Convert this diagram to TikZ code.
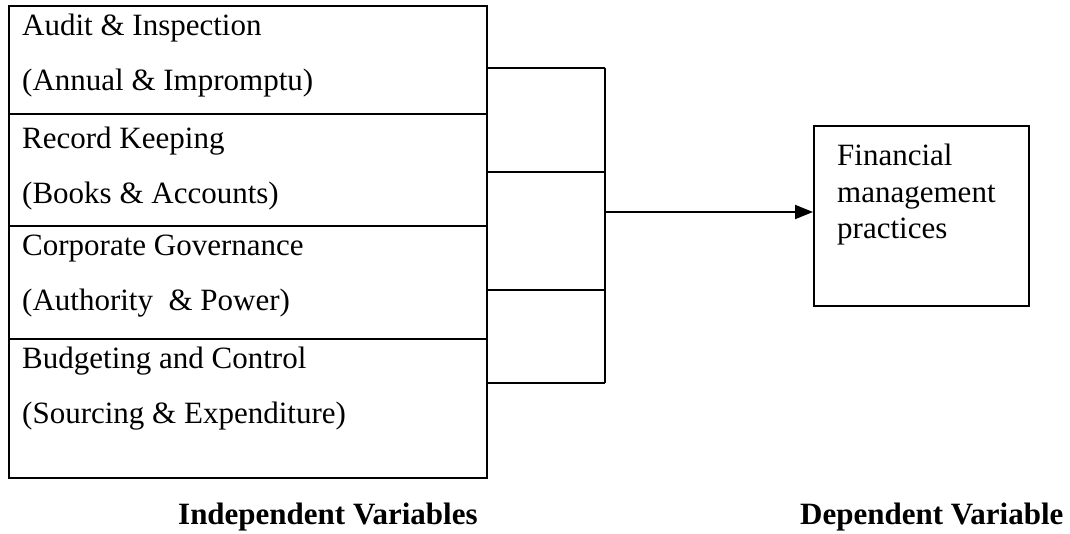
\documentclass[tikz,border=0pt]{standalone}
\usepackage{fontspec}
\setmainfont{Liberation Serif}
\usetikzlibrary{arrows.meta}
\begin{document}
\begin{tikzpicture}[x=1pt,y=-1pt,
  every node/.style={font=\fontsize{31}{36}\selectfont, inner sep=0pt},
  cell/.style={draw, line width=2pt, rectangle, anchor=north west, minimum width=478pt},
  label/.style={anchor=base west, text=black},
  wire/.style={line width=2pt},
  head/.style={-{Triangle[length=18pt,width=14pt]}},
  caption/.style={anchor=base west, font=\fontsize{31}{36}\selectfont\bfseries}]
\useasboundingbox (0,0) rectangle (1070,533);

% stacked cells of the independent variables
\node[cell, minimum height=108pt] (c1) at (8,5) {};
\node[cell, minimum height=112pt] (c2) at (8,113) {};
\node[cell, minimum height=113pt] (c3) at (8,225) {};
\node[cell, minimum height=139pt] (c4) at (8,338) {};

\node[label] (t1a) at (22,35)  {Audit \& Inspection};
\node[label] (t1b) at (22,90)  {(Annual \& Impromptu)};
\node[label] (t2a) at (22,148) {Record Keeping};
\node[label] (t2b) at (22,203) {(Books \& Accounts)};
\node[label] (t3a) at (22,255) {Corporate Governance};
\node[label] (t3b) at (22,310) {(Authority \ \& Power)};
\node[label] (t4a) at (22,368) {Budgeting and Control};
\node[label] (t4b) at (22,423) {(Sourcing \& Expenditure)};

% dependent variable box
\node[draw, line width=2pt, rectangle, anchor=north west,
      minimum width=215pt, minimum height=180pt] (dv) at (813,125) {};
\node[label] (d1) at (837,165) {Financial};
\node[label] (d2) at (837,202) {management};
\node[label] (d3) at (837,238) {practices};

% bus joining the four cells
\coordinate (j1) at (605,68);
\coordinate (j2) at (605,172);
\coordinate (j3) at (605,290);
\coordinate (j4) at (605,383);
\coordinate (jm) at (605,212);

\draw[wire] (c1.east |- j1) -- (j1);
\draw[wire] (c2.east |- j2) -- (j2);
\draw[wire] (c3.east |- j3) -- (j3);
\draw[wire] (c4.east |- j4) -- (j4);
\draw[wire] (j1) -- (j4);
\draw[wire, head] (jm) -- (dv.west |- jm);

% captions
\node[caption] (iv) at (178,524) {Independent Variables};
\node[caption] (dvl) at (800,524) {Dependent Variable};
\end{tikzpicture}
\end{document}
